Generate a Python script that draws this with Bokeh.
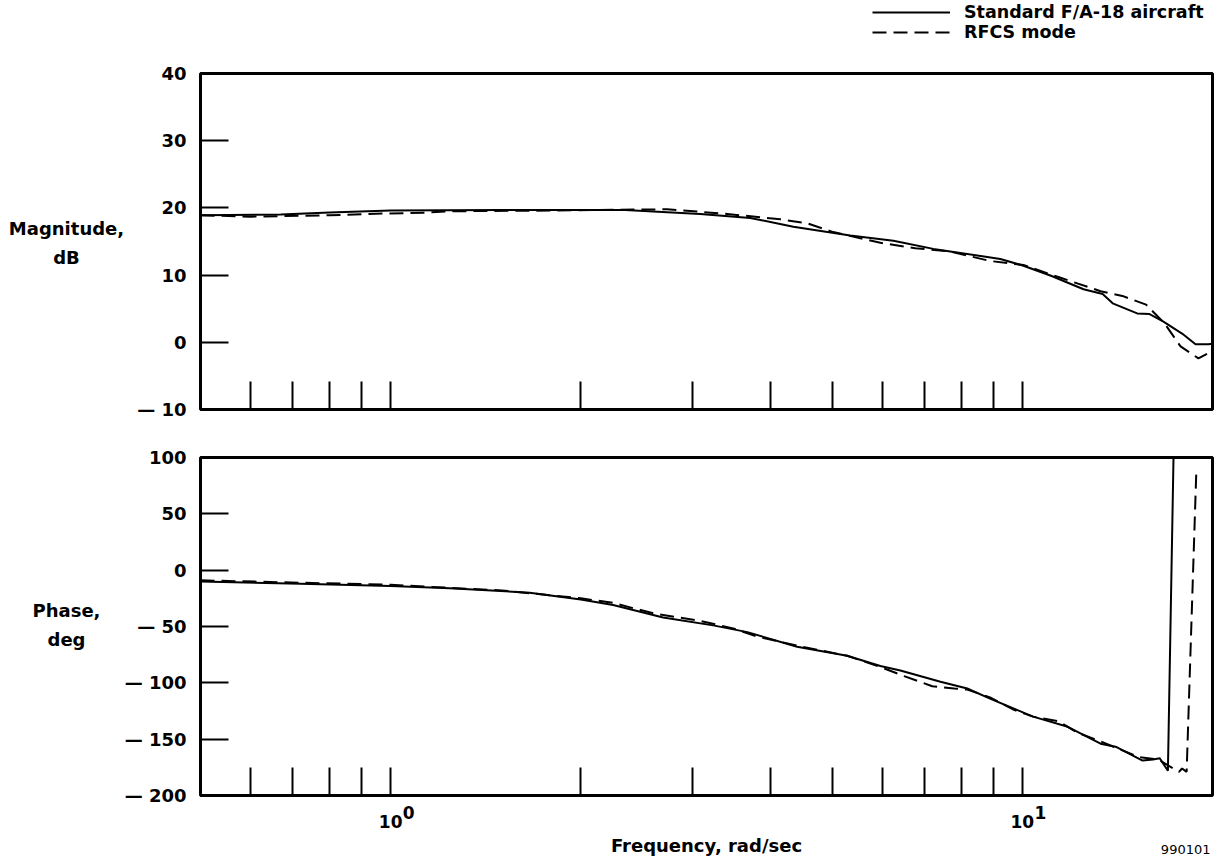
from bokeh.plotting import figure
from bokeh.layouts import column
from bokeh.models import (FixedTicker, CustomJSTickFormatter, Label, Legend,
                          LegendItem, Range1d)
from bokeh.embed import file_html
from bokeh.resources import INLINE

# ---------------- data ----------------
freq_mag_std = [0.5, 0.67, 0.8, 1.0, 1.49, 2.35, 3.09, 3.71, 4.34, 5.34, 6.25, 7.23, 7.98,
                9.23, 10.04, 11.1, 12.5, 13.4, 13.9, 15.2, 15.9, 16.7, 17.9, 18.8, 19.7, 20.0]
mag_std = [18.9, 19.0, 19.3, 19.6, 19.7, 19.7, 19.1, 18.5, 17.2, 15.9, 15.1, 13.9, 13.3,
           12.4, 11.4, 9.9, 7.9, 7.2, 5.8, 4.3, 4.2, 3.1, 1.3, -0.3, -0.3, -0.2]

freq_mag_rfcs = [0.5, 0.6, 0.8, 0.92, 1.14, 1.24, 1.79, 2.74, 3.41, 4.14, 4.57, 5.02, 5.96,
                 6.77, 7.69, 8.89, 10.04, 11.5, 13.3, 14.4, 15.7, 16.8, 17.8, 19.0, 19.7, 20.0]
mag_rfcs = [18.9, 18.7, 18.9, 19.1, 19.3, 19.5, 19.6, 19.8, 19.1, 18.3, 17.7, 16.4, 14.8,
            14.0, 13.5, 12.1, 11.5, 9.6, 7.6, 6.9, 5.6, 2.8, -0.6, -2.4, -1.6, -1.3]

freq_ph_std = [0.5, 0.72, 1.0, 1.24, 1.66, 2.0, 2.25, 2.70, 3.24, 3.67, 4.40, 5.28, 5.96,
               6.41, 7.42, 8.18, 8.89, 10.4, 11.8, 13.3, 14.1, 15.5, 16.1, 16.5, 17.0, 17.35]
ph_std = [-10, -12, -14, -16, -20, -26, -31, -42, -49, -55, -68, -76, -85,
          -89, -99, -105, -114, -130, -139, -154, -157, -169, -168, -167, -178, 100]

freq_ph_rfcs = [0.5, 1.0, 1.5, 2.0, 2.25, 2.43, 2.64, 3.09, 3.5, 3.81, 4.4, 5.28, 5.96, 6.5,
                7.2, 7.8, 8.18, 8.89, 9.7, 10.4, 11.4, 12.2, 13.3, 15.3, 16.4, 17.7, 17.9,
                18.2, 18.85]
ph_rfcs = [-9, -13, -18, -25, -29, -34, -39, -45, -52, -59, -67, -76, -86, -94,
           -103, -105, -106, -113, -124, -130, -134, -144, -152, -166, -168, -179, -176,
           -179, 86]

x_ticks = [0.6, 0.7, 0.8, 0.9, 1, 2, 3, 4, 5, 6, 7, 8, 9, 10]
x_decades = [1, 10]
decade_exponents = ["0", "1"]
x_range = (0.5, 20)
mag_ticks = [-10, 0, 10, 20, 30, 40]
ph_ticks = [-200, -150, -100, -50, 0, 50, 100]
legend_labels = ["Standard F/A-18 aircraft", "RFCS mode"]

FONT = "DejaVu Sans"
W = 1218
LEFT = 200
RIGHT = 6

ylab_fmt = CustomJSTickFormatter(code="return tick < 0 ? '\\u2014 ' + Math.abs(tick) : String(tick);")


def style(p, yticks):
    p.outline_line_color = "black"
    p.outline_line_width = 3
    p.xgrid.visible = False
    p.ygrid.visible = False
    p.background_fill_color = "white"
    p.border_fill_color = "white"
    for ax in (p.xaxis[0], p.yaxis[0]):
        ax.axis_line_color = None
        ax.major_tick_line_color = "black"
        ax.major_tick_line_width = 2
        ax.major_tick_in = 28
        ax.major_tick_out = 0
        ax.minor_tick_line_color = None
        ax.major_label_text_font = FONT
        ax.major_label_text_font_style = "bold"
        ax.major_label_text_color = "black"
    p.xaxis.ticker = FixedTicker(ticks=x_ticks, minor_ticks=[])
    p.yaxis.ticker = FixedTicker(ticks=yticks, minor_ticks=[])
    p.yaxis.formatter = ylab_fmt
    p.yaxis.major_label_text_font_size = "18px"
    p.yaxis.major_label_standoff = 14


def side_label(p, text, x, y, x_off=0, y_off=0, size="18px", style_="bold", align="center",
               baseline="alphabetic", side="left", line_height=1.2):
    p.add_layout(Label(x=x, y=y, x_offset=x_off, y_offset=y_off, text=text,
                       text_align=align, text_baseline=baseline, text_font=FONT,
                       text_font_style=style_, text_font_size=size, text_color="black",
                       text_line_height=line_height),
                 side)


# ---------------- legend header ----------------
# the two series are drawn here too, but outside this strip's y range (only the
# legend of this strip is visible)
p0 = figure(width=W, height=45, output_backend="svg", toolbar_location=None,
            x_axis_type="log", x_range=Range1d(*x_range), y_range=Range1d(100, 101),
            x_axis_location=None, y_axis_location=None,
            min_border_left=0, min_border_right=0, min_border_top=0, min_border_bottom=0)
p0.outline_line_color = None
p0.xgrid.visible = False
p0.ygrid.visible = False
g_std = p0.line(freq_mag_std, mag_std, line_color="black", line_width=2)
g_rfcs = p0.line(freq_mag_rfcs, mag_rfcs, line_color="black", line_width=2,
                 line_dash="14 7")
legend = Legend(items=[LegendItem(label=legend_labels[0], renderers=[g_std]),
                       LegendItem(label=legend_labels[1], renderers=[g_rfcs])],
                location=(672, 3), orientation="vertical")
legend.padding = 0
legend.margin = 0
legend.spacing = -7
legend.glyph_width = 78
legend.glyph_height = 18
legend.label_height = 18
legend.label_standoff = 14
legend.label_text_font = FONT
legend.label_text_font_style = "bold"
legend.label_text_font_size = "17.5px"
legend.label_text_color = "black"
legend.border_line_color = None
legend.background_fill_alpha = 0
p0.add_layout(legend)

# ---------------- magnitude panel ----------------
p1 = figure(width=W, height=388, x_axis_type="log", output_backend="svg",
            toolbar_location=None, x_range=Range1d(*x_range), y_range=Range1d(-10, 40),
            min_border_left=LEFT, min_border_right=RIGHT, min_border_top=28,
            min_border_bottom=24)
style(p1, mag_ticks)
p1.xaxis.formatter = CustomJSTickFormatter(code="return '';")
p1.xaxis.major_label_text_font_size = "1px"
p1.xaxis.major_label_standoff = 0

p1.line(freq_mag_std, mag_std, line_color="black", line_width=2)
p1.line(freq_mag_rfcs, mag_rfcs, line_color="black", line_width=2, line_dash="14 7")

side_label(p1, "Magnitude,\ndB", x_range[0], 14.75, x_off=-134, baseline="middle",
           line_height=1.4)

# ---------------- phase panel ----------------
p2 = figure(width=W, height=427, x_axis_type="log", output_backend="svg",
            toolbar_location=None, x_range=Range1d(*x_range), y_range=Range1d(-200, 100),
            min_border_left=LEFT, min_border_right=RIGHT, min_border_top=24,
            min_border_bottom=65)
style(p2, ph_ticks)
p2.xaxis.formatter = CustomJSTickFormatter(code="return (tick == 1 || tick == 10) ? '10' : '';")
p2.xaxis.major_label_text_font_size = "17px"
p2.xaxis.major_label_standoff = 19
p2.xaxis.axis_label = "Frequency, rad/sec"
p2.xaxis.axis_label_text_font = FONT
p2.xaxis.axis_label_text_font_style = "bold"
p2.xaxis.axis_label_text_font_size = "18px"
p2.xaxis.axis_label_text_color = "black"
p2.xaxis.axis_label_standoff = 4

p2.line(freq_ph_std, ph_std, line_color="black", line_width=2)
p2.line(freq_ph_rfcs, ph_rfcs, line_color="black", line_width=2, line_dash="14 7")

side_label(p2, "Phase,\ndeg", x_range[0], -48.5, x_off=-134, baseline="middle",
           line_height=1.4)

for xv, sup in zip(x_decades, decade_exponents):
    side_label(p2, sup, xv, -200, x_off=18, y_off=-17, size="17px")

side_label(p2, "990101", x_range[1], -200, x_off=-2, y_off=-54, size="13px",
           style_="normal", align="right", side="above")

layout = column(p0, p1, p2, spacing=0)
open("out.html", "w").write(file_html(layout, INLINE))
